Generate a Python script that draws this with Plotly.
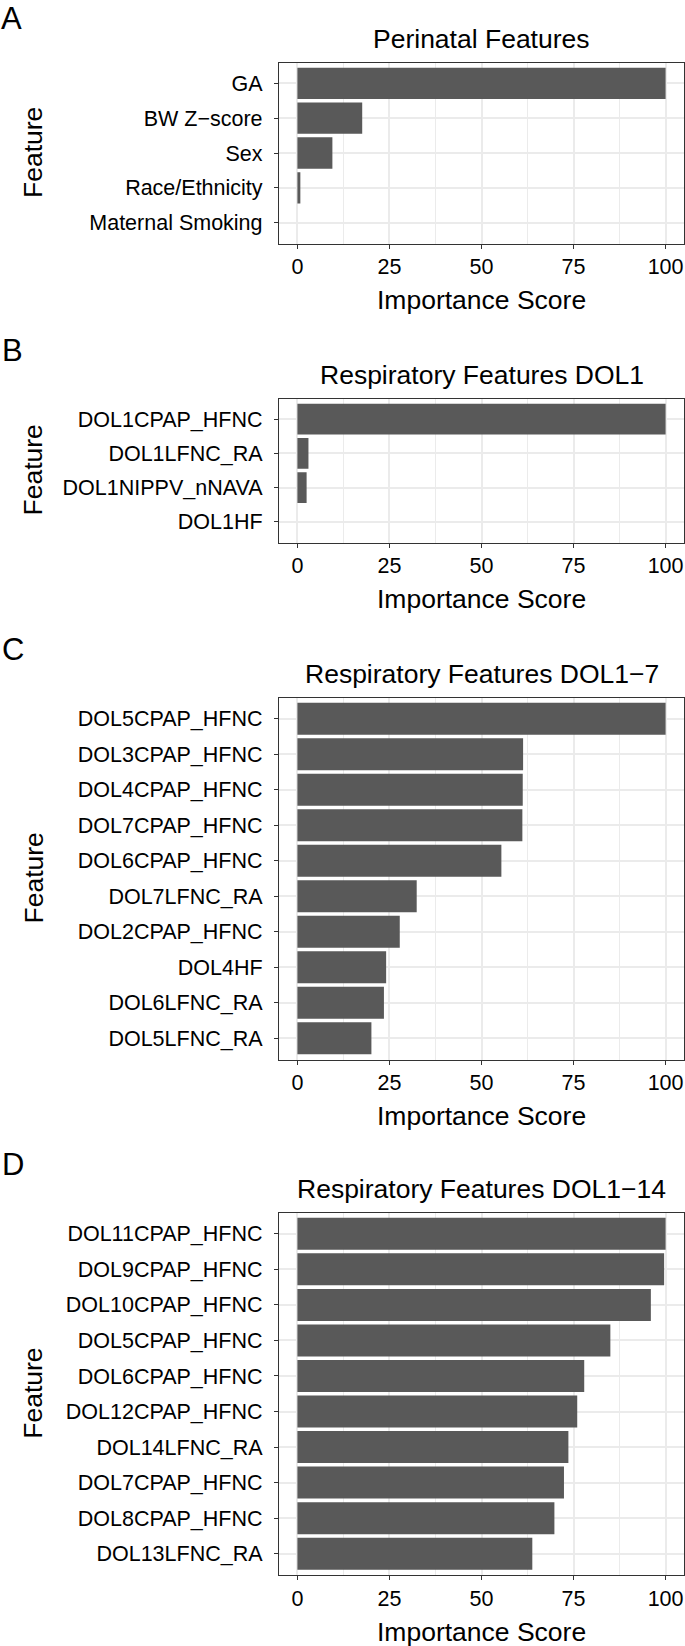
import plotly.graph_objects as go

# ---------------- data ----------------
perinatal_features = ["GA", "BW Z\u2212score", "Sex", "Race/Ethnicity", "Maternal Smoking"]
perinatal_scores = [100, 17.6, 9.5, 0.8, 0]

dol1_features = ["DOL1CPAP_HFNC", "DOL1LFNC_RA", "DOL1NIPPV_nNAVA", "DOL1HF"]
dol1_scores = [100, 3.0, 2.5, 0]

dol1_7_features = ["DOL5CPAP_HFNC", "DOL3CPAP_HFNC", "DOL4CPAP_HFNC", "DOL7CPAP_HFNC",
                   "DOL6CPAP_HFNC", "DOL7LFNC_RA", "DOL2CPAP_HFNC", "DOL4HF",
                   "DOL6LFNC_RA", "DOL5LFNC_RA"]
dol1_7_scores = [100, 61.3, 61.2, 61.1, 55.4, 32.4, 27.8, 24.1, 23.5, 20.1]

dol1_14_features = ["DOL11CPAP_HFNC", "DOL9CPAP_HFNC", "DOL10CPAP_HFNC", "DOL5CPAP_HFNC",
                    "DOL6CPAP_HFNC", "DOL12CPAP_HFNC", "DOL14LFNC_RA", "DOL7CPAP_HFNC",
                    "DOL8CPAP_HFNC", "DOL13LFNC_RA"]
dol1_14_scores = [100, 99.6, 96.0, 85.0, 77.9, 76.0, 73.6, 72.4, 69.8, 63.8]

panel_letters = ["A", "B", "C", "D"]
panel_titles = ["Perinatal Features", "Respiratory Features DOL1",
                "Respiratory Features DOL1\u22127", "Respiratory Features DOL1\u221214"]
x_ticks = [0, 25, 50, 75, 100]
x_title = "Importance Score"
y_title = "Feature"

# ---------------- layout geometry (pixels) ----------------
W, H = 685, 1646
FONT = "Liberation Sans, Arial, Helvetica, sans-serif"
BAR = "#595959"
GRID = "#EBEBEB"
BORDER = "#333333"

plot_left, plot_right = 279, 684
panels = [  # (top, bottom) of each panel's plotting area
    (62.5, 243.5),
    (398.5, 542.5),
    (697.5, 1059.5),
    (1212.5, 1575.0),
]
data = [
    (perinatal_features, perinatal_scores),
    (dol1_features, dol1_scores),
    (dol1_7_features, dol1_7_scores),
    (dol1_14_features, dol1_14_scores),
]


def py(p):
    return 1 - p / H


def px(p):
    return p / W


fig = go.Figure()
annotations = []
layout_axes = {}

for i, ((cats, vals), (top, bot)) in enumerate(zip(data, panels)):
    n = i + 1
    xa = "x" if n == 1 else f"x{n}"
    ya = "y" if n == 1 else f"y{n}"
    fig.add_trace(go.Bar(
        x=vals, y=cats, orientation="h", width=0.9,
        marker=dict(color=BAR, line=dict(width=0)),
        xaxis=xa, yaxis=ya, showlegend=False, hoverinfo="x+y",
    ))
    xkey = "xaxis" if n == 1 else f"xaxis{n}"
    ykey = "yaxis" if n == 1 else f"yaxis{n}"
    layout_axes[xkey] = dict(
        domain=[px(plot_left), px(plot_right)], anchor=ya,
        range=[-5, 105], tickvals=x_ticks, ticktext=[str(t) for t in x_ticks],
        showgrid=True, gridcolor=GRID, gridwidth=1.6,
        minor=dict(showgrid=True, gridcolor=GRID, gridwidth=0.8, tickvals=[12.5, 37.5, 62.5, 87.5]),
        zeroline=False, showline=True, mirror=True, linecolor=BORDER, linewidth=1.3,
        ticks="outside", ticklen=4, tickwidth=1.2, tickcolor=BORDER,
        tickfont=dict(family=FONT, size=21.5, color="black"),
        ticklabeloverflow="allow",
        fixedrange=True,
    )
    layout_axes[ykey] = dict(
        domain=[py(bot), py(top)], anchor=xa,
        type="category", categoryorder="array", categoryarray=cats,
        range=[len(cats) - 0.4, -0.6],
        showgrid=True, gridcolor=GRID, gridwidth=1.6,
        zeroline=False, showline=True, mirror=True, linecolor=BORDER, linewidth=1.3,
        ticks="outside", ticklen=4, tickwidth=1.2, tickcolor=BORDER,
        tickfont=dict(family=FONT, size=21.5, color="black"),
        ticklabelstandoff=7,
        fixedrange=True,
    )
    cx = px((plot_left + plot_right) / 2)
    # panel letter
    if i == 0:
        annotations.append(dict(text=panel_letters[i], x=0, xanchor="left", y=1, yanchor="top",
                                xref="paper", yref="paper", showarrow=False, borderpad=0,
                                font=dict(family=FONT, size=31, color="black")))
    else:
        annotations.append(dict(text=panel_letters[i], x=0, xanchor="left", y=py(top - 48), yanchor="middle",
                                xref="paper", yref="paper", showarrow=False,
                                font=dict(family=FONT, size=31, color="black")))
    # panel title
    annotations.append(dict(text=panel_titles[i], x=cx, xanchor="center", y=py(top - 24), yanchor="middle",
                            xref="paper", yref="paper", showarrow=False,
                            font=dict(family=FONT, size=26.5, color="black")))
    # x axis title
    annotations.append(dict(text=x_title, x=cx, xanchor="center", y=py(bot + 56.5), yanchor="middle",
                            xref="paper", yref="paper", showarrow=False,
                            font=dict(family=FONT, size=26.5, color="black")))
    # y axis title
    annotations.append(dict(text=y_title, x=px(33), xanchor="center", y=py((top + bot) / 2), yanchor="middle",
                            xref="paper", yref="paper", showarrow=False, textangle=-90,
                            font=dict(family=FONT, size=26.5, color="black")))

fig.update_layout(
    width=W, height=H,
    margin=dict(l=0, r=0, t=0, b=0),
    paper_bgcolor="white", plot_bgcolor="white",
    bargap=0.1,
    annotations=annotations,
    **layout_axes,
)

fig.write_html(
    "out.html",
    config={"displayModeBar": False},
    post_script="document.body.style.margin='0';document.body.style.padding='0';"
                "document.documentElement.style.overflow='hidden';",
)
